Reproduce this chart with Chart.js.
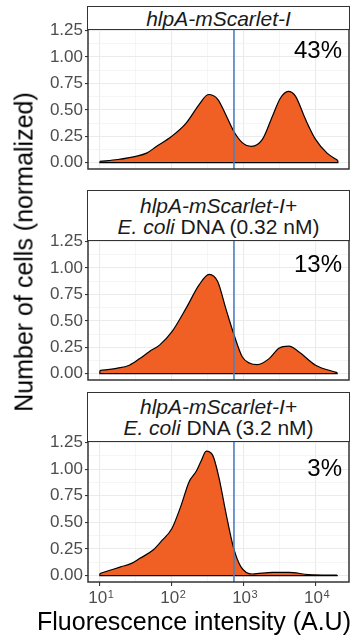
<!DOCTYPE html>
<html>
<head>
<meta charset="utf-8">
<script src="https://cdn.jsdelivr.net/npm/chart.js@4"></script>
<style>
  body { margin: 0; background: #fff; }
  #wrap { position: relative; width: 350px; height: 637px; overflow: hidden; background: #fff;
          font-family: "Liberation Sans", Arial, sans-serif; }
  canvas { position: absolute; left: 0; }
  .strip { position: absolute; left: 87px; width: 263px; box-sizing: border-box; border: 1.5px solid #333;
           background: #fff; color: #1a1a1a; font-size: 21px; line-height: 21px; text-align: center;
           display: flex; flex-direction: column; justify-content: center; }
  .pct { position: absolute; right: 8px; font-size: 24px; line-height: 24px; color: #000; }
  .ytitle { position: absolute; left: 24px; top: 252px; transform: translate(-50%, -50%) rotate(-90deg);
            font-size: 25px; line-height: 25px; white-space: nowrap; color: #000; }
  .xtitle { position: absolute; left: 37px; top: 609px; font-size: 25px; line-height: 25px; white-space: nowrap; color: #000; }
</style>
</head>
<body>
<div id="wrap">
  <canvas id="p1" width="350" height="156" style="top:17px"></canvas>
  <canvas id="p2" width="350" height="156" style="top:228px"></canvas>
  <canvas id="p3" width="350" height="183" style="top:429px"></canvas>

  <div class="strip" style="top:6px;height:24px"><div><i>hlpA-mScarlet-I</i></div></div>
  <div class="strip" style="top:190px;height:51px"><div><i>hlpA-mScarlet-I+</i></div><div><i>E. coli</i> DNA (0.32 nM)</div></div>
  <div class="strip" style="top:392px;height:50px"><div><i>hlpA-mScarlet-I+</i></div><div><i>E. coli</i> DNA (3.2 nM)</div></div>

  <div class="pct" id="pct1" style="top:38px"></div>
  <div class="pct" id="pct2" style="top:252px"></div>
  <div class="pct" id="pct3" style="top:456px"></div>

  <div class="ytitle">Number of cells (normalized)</div>
  <div class="xtitle">Fluorescence intensity (A.U)</div>
</div>

<script>
// x values are log10(fluorescence intensity)
const p1Log = [1.0, 1.25, 1.5, 1.65, 1.78, 2.0, 2.2, 2.38, 2.51, 2.64, 2.75, 2.86, 2.98, 3.11, 3.26, 3.4, 3.51, 3.62, 3.72, 3.86, 4.0, 4.16, 4.31];
const p1Density = [0.012, 0.03, 0.06, 0.09, 0.15, 0.25, 0.375, 0.55, 0.645, 0.6, 0.455, 0.3, 0.19, 0.155, 0.22, 0.44, 0.61, 0.675, 0.63, 0.41, 0.22, 0.09, 0.02];

const p2Log = [1.0, 1.23, 1.41, 1.55, 1.69, 1.83, 2.0, 2.2, 2.38, 2.52, 2.64, 2.75, 2.86, 2.98, 3.08, 3.19, 3.35, 3.49, 3.63, 3.77, 4.0, 4.3];
const p2Density = [0.03, 0.05, 0.08, 0.14, 0.21, 0.27, 0.395, 0.62, 0.84, 0.94, 0.87, 0.62, 0.38, 0.16, 0.1, 0.085, 0.14, 0.24, 0.26, 0.205, 0.08, 0.01];

const p3Log = [1.0, 1.14, 1.28, 1.44, 1.55, 1.74, 1.87, 2.0, 2.13, 2.24, 2.34, 2.41, 2.48, 2.57, 2.66, 2.75, 2.86, 2.96, 3.12, 3.4, 3.63, 3.9, 4.3];
const p3Density = [0.02, 0.05, 0.08, 0.115, 0.16, 0.24, 0.335, 0.44, 0.66, 0.88, 0.98, 1.08, 1.17, 1.13, 0.91, 0.6, 0.26, 0.085, 0.015, 0.03, 0.03, 0.01, 0.005];

const percents = ['43%', '13%', '3%'];
const gateLog = 2.865;   // blue gate line
const xGrid = [1, 1.5, 2, 2.5, 3, 3.5, 4];
const xPowers = [1, 2, 3, 4];
const yGrid = [0, 0.125, 0.25, 0.375, 0.5, 0.625, 0.75, 0.875, 1, 1.125, 1.25];

const xMin = 0.835, xMax = 4.465, yMin = -0.06, yMax = 1.265;
const fontFamily = 'Liberation Sans, Arial, sans-serif';
const tickFont = { family: fontFamily, size: 17 };

const panelBorder = {
    id: 'panelBorder',
    afterDraw(chart) {
        const { ctx, chartArea: a } = chart;
        ctx.save();
        ctx.strokeStyle = '#333';
        ctx.lineWidth = 1.5;
        ctx.strokeRect(a.left, a.top, a.right - a.left, a.bottom - a.top);
        ctx.restore();
    }
};

// 10^n labels under the bottom panel
const powerLabels = {
    id: 'powerLabels',
    afterDraw(chart) {
        if (!chart.options.showPowers) return;
        const s = chart.scales.x, ctx = chart.ctx;
        const base = chart.chartArea.bottom + 21;
        ctx.save();
        ctx.fillStyle = '#4d4d4d';
        ctx.textBaseline = 'alphabetic';
        ctx.textAlign = 'left';
        xPowers.forEach(p => {
            const x = s.getPixelForValue(p);
            ctx.font = '17px ' + fontFamily;
            const w1 = ctx.measureText('10').width;
            ctx.font = '11px ' + fontFamily;
            const w2 = ctx.measureText(String(p)).width;
            const left = x - (w1 + w2) / 2 + 1;
            ctx.font = '17px ' + fontFamily;
            ctx.fillText('10', left, base);
            ctx.font = '11px ' + fontFamily;
            ctx.fillText(String(p), left + w1 + 0.5, base - 5);
        });
        ctx.restore();
    }
};

const isMajor = (v, step) => Math.abs(v / step - Math.round(v / step)) < 1e-9;
const noPad = s => { s.paddingTop = 0; s.paddingBottom = 0; s.paddingLeft = 0; s.paddingRight = 0; };

function makePanel(id, xs, ys, showX) {
    const pts = xs.map((x, i) => ({ x: x, y: ys[i] }));
    const last = pts.length - 1;
    new Chart(document.getElementById(id), {
        type: 'line',
        data: {
            datasets: [{
                data: [{ x: gateLog, y: yMin }, { x: gateLog, y: yMax }],
                borderColor: '#4a7fc4', borderWidth: 1.6, pointRadius: 0, order: 0
            }, {
                // closing outline of the density polygon
                data: [pts[0], { x: xs[0], y: 0 }, { x: xs[last], y: 0 }, pts[last]],
                borderColor: '#000', borderWidth: 1.2, pointRadius: 0, order: 1
            }, {
                data: pts,
                borderColor: '#000', borderWidth: 1.2, backgroundColor: '#f05f24',
                fill: 'origin', cubicInterpolationMode: 'monotone', pointRadius: 0, order: 2
            }]
        },
        options: {
            responsive: false,
            animation: false,
            events: [],
            showPowers: showX,
            layout: { padding: { top: 12, right: 1, bottom: showX ? 0 : 4, left: 0 } },
            plugins: { legend: { display: false }, tooltip: { enabled: false } },
            scales: {
                x: {
                    type: 'linear', min: xMin, max: xMax,
                    afterBuildTicks: s => { s.ticks = xGrid.map(v => ({ value: v })); },
                    afterFit: s => { s.height = showX ? 30 : 0; noPad(s); },
                    border: { display: false },
                    grid: {
                        color: c => isMajor(c.tick.value, 1) ? '#ebebeb' : '#f2f2f2',
                        lineWidth: c => isMajor(c.tick.value, 1) ? 1.1 : 0.8,
                        drawTicks: showX, tickLength: 4,
                        tickColor: c => isMajor(c.tick.value, 1) ? '#333' : 'rgba(0,0,0,0)'
                    },
                    ticks: { display: false }
                },
                y: {
                    min: yMin, max: yMax,
                    afterBuildTicks: s => { s.ticks = yGrid.map(v => ({ value: v })); },
                    afterFit: s => { s.width = 88; noPad(s); },
                    border: { display: false },
                    grid: {
                        color: c => isMajor(c.tick.value, 0.25) ? '#ebebeb' : '#f2f2f2',
                        lineWidth: c => isMajor(c.tick.value, 0.25) ? 1.1 : 0.8,
                        tickLength: 3,
                        tickColor: c => isMajor(c.tick.value, 0.25) ? '#333' : 'rgba(0,0,0,0)'
                    },
                    ticks: {
                        padding: 2, color: '#4d4d4d', font: tickFont, autoSkip: false,
                        callback: v => isMajor(v, 0.25) ? v.toFixed(2) : ''
                    }
                }
            }
        },
        plugins: [panelBorder, powerLabels]
    });
}

makePanel('p1', p1Log, p1Density, false);
makePanel('p2', p2Log, p2Density, false);
makePanel('p3', p3Log, p3Density, true);

percents.forEach((p, i) => { document.getElementById('pct' + (i + 1)).textContent = p; });
</script>
</body>
</html>
